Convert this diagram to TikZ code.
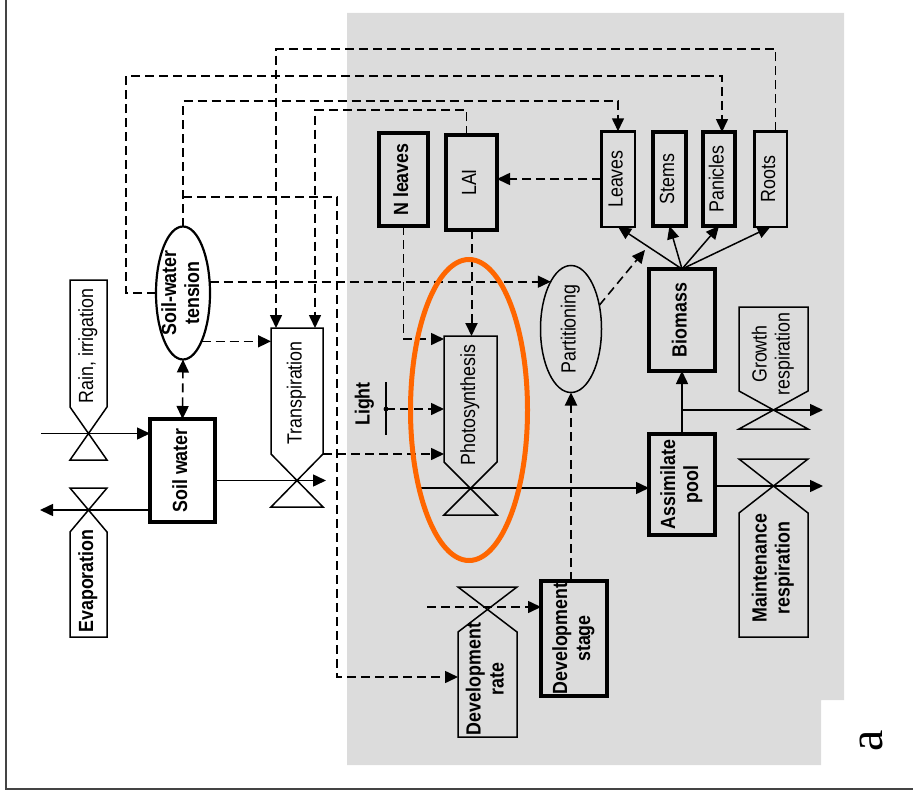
\documentclass[tikz,border=0pt]{standalone}
\usepackage{fontspec}
\setmainfont{Liberation Sans}[FakeStretch=0.87]
\newfontfamily\serifa{Liberation Serif}
\usepackage{graphicx}
\usetikzlibrary{arrows.meta,calc,shapes.geometric}
\definecolor{bggray}{HTML}{DCDCDC}
\definecolor{hlorange}{HTML}{FF6600}
\definecolor{framegray}{HTML}{444444}
\newcommand{\lbl}{\fontsize{20.5}{23}\selectfont}
\newcommand{\vt}[2][]{\rotatebox{90}{#1\begin{tabular}{@{}c@{}}#2\end{tabular}}}
\newcommand{\valvedown}[2]{%
  \draw[valveline] (#1.south west) -- (#1.north west) -- (#1.north east) -- (#1.south east)
     -- ($(#1.south west)+(0,#2)$) -- ($(#1.south east)+(0,#2)$) -- cycle;
  \coordinate (#1x) at ($(#1.south)+(0,#2/2)$);}
\newcommand{\valveup}[2]{%
  \draw[valveline] (#1.north west) -- (#1.south west) -- (#1.south east) -- (#1.north east)
     -- ($(#1.north west)+(0,-#2)$) -- ($(#1.north east)+(0,-#2)$) -- cycle;
  \coordinate (#1x) at ($(#1.north)+(0,-#2/2)$);}
\begin{document}
\begin{tikzpicture}[x=1pt,y=-1pt,
  nbase/.style={inner sep=0pt,outer sep=0pt,font=\lbl},
  thickbox/.style={nbase,draw,line width=4pt},
  medbox/.style={nbase,draw,line width=2.5pt},
  ghost/.style={nbase},
  flow/.style={line width=1.5pt,-{Triangle[length=13pt,width=12pt]}},
  info/.style={line width=1.6pt,dash pattern=on 9pt off 5pt,-{Triangle[length=13pt,width=12pt]}},
  infoboth/.style={info,{Triangle[length=13pt,width=12pt]}-{Triangle[length=13pt,width=12pt]}},
  valveline/.style={line width=1.5pt},
]
\useasboundingbox (0,0) rectangle (913,800);
\fill[bggray] (347,13) -- (844,13) -- (844,700) -- (821,700) -- (821,765) -- (347,765) -- cycle;
\draw[framegray,line width=1.8pt] (6,0) -- (6,789) -- (913,789);

% stocks and boxes
\node[thickbox,minimum width=65,minimum height=103] (sw) at (182.5,470.5) {\vt[\bfseries]{Soil water}};
\node[nbase,draw,line width=2.2pt,ellipse,minimum width=54,minimum height=133] (swt) at (183,293) {};
\node[nbase] (swtl) at (swt.center) {\vt[\bfseries]{Soil-water\\tension}};
\node[thickbox,minimum width=49,minimum height=93] (nlv) at (403.5,179.5) {\vt[\bfseries]{N leaves}};
\node[thickbox,minimum width=51,minimum height=95] (lai) at (471.5,182.5) {\vt{LAI}};
\node[medbox,minimum width=33.5,minimum height=95.5] (leaves) at (618,179) {\vt{Leaves}};
\node[thickbox,minimum width=33,minimum height=94] (stems) at (669.5,179) {\vt{Stems}};
\node[thickbox,minimum width=32,minimum height=94] (pan) at (719,179) {\vt{Panicles}};
\node[medbox,minimum width=32.5,minimum height=95.5] (roots) at (770.5,179) {\vt{Roots}};
\node[thickbox,minimum width=66,minimum height=102] (biom) at (682,320) {\vt[\bfseries]{Biomass}};
\node[thickbox,minimum width=66,minimum height=101] (pool) at (682,484.5) {\vt[\bfseries]{Assimilate\\pool}};
\node[thickbox,minimum width=66,minimum height=115] (devs) at (574,638.5) {\vt[\bfseries]{Development\\stage}};
\node[nbase,draw,line width=1.5pt,ellipse,minimum width=61,minimum height=127] (part) at (571,329) {};
\node[nbase] (partl) at (part.center) {\vt{Partitioning}};

% valves (rates)
\node[ghost,minimum width=37,minimum height=127] (rain) at (88.5,343.5) {};
\node[nbase] (rainl) at (88.5,346) {\vt{Rain, irrigation}};
\valvedown{rain}{53}
\node[ghost,minimum width=37,minimum height=105] (evap) at (88.5,584.5) {};
\node[nbase] (evapl) at (88.5,581) {\vt[\bfseries]{Evaporation}};
\valveup{evap}{44}
\node[ghost,minimum width=52,minimum height=126] (trans) at (297,391) {};
\node[nbase] (transl) at (297,393) {\vt{Transpiration}};
\valvedown{trans}{53}
\node[ghost,minimum width=53,minimum height=126] (photo) at (470.5,399) {};
\node[nbase] (photol) at (470.5,405) {\vt{Photosynthesis}};
\valvedown{photo}{53}
\node[ghost,minimum width=69,minimum height=84] (growth) at (773.5,349) {};
\node[nbase] (growthl) at (773.5,354) {\vt{Growth\\respiration}};
\valvedown{growth}{38}
\node[ghost,minimum width=69,minimum height=124] (maint) at (773.5,575) {};
\node[nbase] (maintl) at (773.5,568) {\vt[\bfseries]{Maintenance\\respiration}};
\valveup{maint}{54}
\node[ghost,minimum width=59,minimum height=105] (devr) at (487.5,684.5) {};
\node[nbase] (devrl) at (487.5,679) {\vt[\bfseries]{Development\\rate}};
\valveup{devr}{45}

% light source
\node[nbase] (light) at (365,404) {\vt[\bfseries]{Light}};
\coordinate (lbar1) at (386,382);
\coordinate (lbar2) at (386,435);
\coordinate (ldot) at (386,409);
\draw[valveline] (lbar1) -- (lbar2);
\fill (ldot) circle (2.4);

% material flows
\coordinate (rainin) at (41,433.5);
\draw[flow] (rainin) -- (rainin -| sw.west);
\coordinate (evapout) at (40,510);
\draw[flow] (evapout -| sw.west) -- (evapout);
\coordinate (transout) at (326,480.5);
\draw[flow] (transout -| sw.east) -- (transout);
\coordinate (photoin) at (421,488);
\draw[flow] (photoin) -- (photoin -| pool.west);
\draw[flow] (pool.north) -- (biom.south);
\coordinate (growout) at (823,410);
\draw[flow] (growout -| pool.north) -- (growout);
\coordinate (maintout) at (823,486);
\draw[flow] (maintout -| pool.east) -- (maintout);
\foreach \organ in {leaves,stems,pan,roots} \draw[flow] (biom.north) -- (\organ.south);

% information flows
\draw[infoboth] (sw.north) -- (swt.south);
\draw[info] (swt.-69) -- (swt.-69 -| trans.west);
\coordinate (c1) at (126,76);
\draw[info] (swt.west) -| (c1) -| ($(pan.north)+(3,0)$);
\coordinate (c2) at (0,101);
\draw[info] (swt.north) -- (swt.north |- c2) -| (leaves.north);
\coordinate (c3) at (337,197);
\coordinate (c4) at (337,677);
\draw[info] (swt.north |- c3) -- (c3) -- (c4) -- (c4 -| devr.west);
\draw[info] (swt.23) -- (swt.23 -| part.113);
\coordinate (t1) at ($(trans.north west)+(5,0)$);
\draw[info] ($(roots.north)+(5,0)$) -- ++(0,-82) -| (t1);
\coordinate (t2) at ($(trans.north east)+(-8,0)$);
\draw[info] ($(lai.north)+(-5,0)$) -- ++(0,-25) -| (t2);
\draw[info] (nlv.south) |- ($(photo.north west)+(0,3)$);
\draw[info,line width=2pt] (lai.south) -- (lai.south |- photo.north);
\draw[info] (ldot) -- (ldot -| photo.west);
\draw[info] (trans.south east) -- (trans.south east -| photo.west);
\draw[info] (leaves.west) -- (leaves.west -| lai.east);
\draw[info,line width=2.4pt] (devs.north -| part.south) -- (part.south);
\coordinate (fan) at (645,250);
\draw[info] (part.40) -- (fan);
\coordinate (dv0) at (427,607);
\draw[info] (dv0) -- (dv0 -| devs.west);

% highlight and panel label
\node[draw=hlorange,line width=5pt,ellipse,minimum width=117,minimum height=301,inner sep=0pt] (hl) at (469,410) {};
\node[font=\serifa\fontsize{48}{50}\selectfont,rotate=90,inner sep=0pt] (lab) at (871,741) {a};
\end{tikzpicture}
\end{document}
